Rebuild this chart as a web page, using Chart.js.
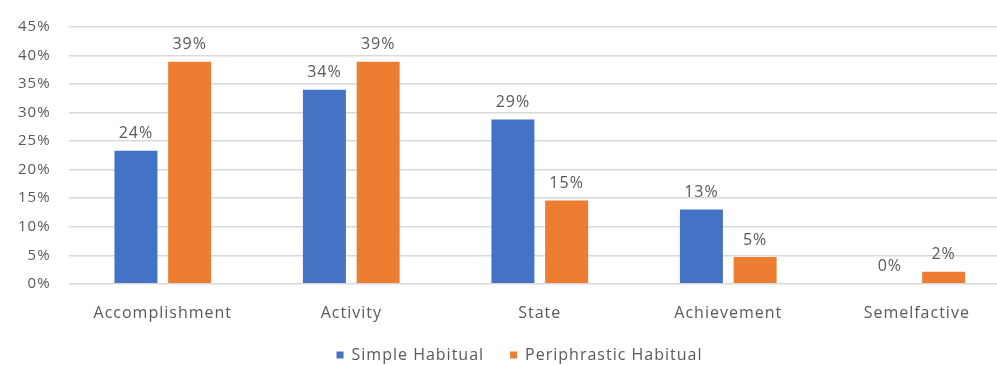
<!DOCTYPE html>
<html>
<head>
<meta charset="utf-8">
<script src="https://cdn.jsdelivr.net/npm/chart.js@4/dist/chart.umd.min.js"></script>
<style>
  html, body { margin: 0; padding: 0; background: #fff; overflow: hidden; }
  /* the original picture is cropped on the right, so the chart runs a bit past the window */
  #wrap { width: 1012px; height: 366px; }
</style>
</head>
<body>
<div id="wrap"><canvas id="habitualChart"></canvas></div>
<script>
// ── DATA ──
const categories = ['Accomplishment', 'Activity', 'State', 'Achievement', 'Semelfactive'];
const simpleValues = [23.3, 34.0, 28.8, 13.0, 0];
const periphrasticValues = [38.9, 38.9, 14.6, 4.7, 2.1];
const simpleLabels = ['24%', '34%', '29%', '13%', '0%'];
const periphrasticLabels = ['39%', '39%', '15%', '5%', '2%'];
const yTicks = [0, 5, 10, 15, 20, 25, 30, 35, 40, 45];

const FONT = '"Open Sans", Lato, sans-serif';
const GREY = '#595959';

// ── WIDER LETTERS (the original is a blurry Calibri screenshot) ──
const spacing = {
  id: 'spacing',
  beforeLayout(chart) { chart.ctx.letterSpacing = '1px'; },
  beforeDraw(chart) { chart.ctx.letterSpacing = '1px'; },
};

// ── LEGEND: wide gap between items, but a low block ──
const legendFit = {
  id: 'legendFit',
  beforeInit(chart) {
    const fit = chart.legend.fit;
    chart.legend.fit = function () {
      fit.bind(chart.legend)();
      this.height -= 21;
    };
  },
  afterLayout(chart) {
    chart.legend.top -= 14;
    chart.legend.left += 28;
  },
};

// ── VALUE LABELS ABOVE BARS ──
const valueLabels = {
  id: 'valueLabels',
  afterDatasetsDraw(chart) {
    const ctx = chart.ctx;
    const texts = [simpleLabels, periphrasticLabels];
    ctx.save();
    ctx.font = '16px ' + FONT;
    ctx.fillStyle = GREY;
    ctx.textAlign = 'center';
    ctx.textBaseline = 'bottom';
    chart.data.datasets.forEach((ds, i) => {
      chart.getDatasetMeta(i).data.forEach((bar, j) => {
        ctx.fillText(texts[i][j], bar.x, bar.y - 9);
      });
    });
    ctx.restore();
  }
};

new Chart(document.getElementById('habitualChart'), {
  type: 'bar',
  data: {
    labels: categories,
    datasets: [
      { label: 'Simple Habitual', data: simpleValues, backgroundColor: '#4472C4' },
      { label: 'Periphrastic Habitual', data: periphrasticValues, backgroundColor: '#ED7D31' },
    ],
  },
  options: {
    responsive: true,
    maintainAspectRatio: false,
    animation: false,
    categoryPercentage: 0.57,
    barPercentage: 0.8,
    layout: { padding: { top: 17, right: 1, left: 0, bottom: 0 } },
    plugins: {
      tooltip: { enabled: false },
      legend: {
        position: 'bottom',
        labels: {
          font: { family: FONT, size: 16 },
          color: GREY,
          boxWidth: 7,
          boxHeight: 7,
          padding: 26,
        },
      },
    },
    scales: {
      x: {
        grid: { display: false },
        border: { display: false },
        ticks: { font: { family: FONT, size: 16 }, color: GREY, padding: 12 },
      },
      y: {
        min: 0,
        max: 45,
        afterBuildTicks: axis => { axis.ticks = yTicks.map(v => ({ value: v })); },
        grid: { color: '#d9d9d9', lineWidth: 1.5, drawTicks: false },
        border: { display: false },
        ticks: { font: { family: FONT, size: 15 }, color: GREY, padding: 18, callback: v => v + '%' },
      },
    },
  },
  plugins: [spacing, legendFit, valueLabels],
});
</script>
</body>
</html>
